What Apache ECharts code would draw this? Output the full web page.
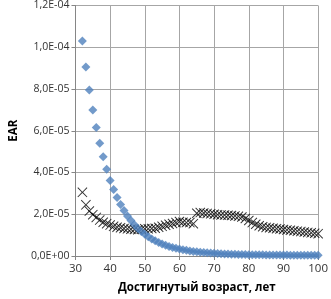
<!DOCTYPE html>
<html>
<head>
<meta charset="utf-8">
<script src="https://cdn.jsdelivr.net/npm/echarts@6/dist/echarts.min.js"></script>
<style>
  html, body { margin: 0; padding: 0; background: #fff; }
  #chart { width: 331px; height: 299px; }
</style>
</head>
<body>
<div id="chart"></div>
<script>
// ages 32..100
var ages = [];
for (var a = 32; a <= 100; a++) ages.push(a);

// blue diamonds
var earA = [
  1.03e-4, 9.05e-5, 7.95e-5, 7.0e-5, 6.15e-5, 5.4e-5, 4.75e-5, 4.15e-5, 3.62e-5, 3.18e-5,
  2.8e-5, 2.47e-5, 2.18e-5, 1.92e-5, 1.7e-5, 1.5e-5, 1.32e-5, 1.17e-5, 1.04e-5, 9.2e-6,
  8.2e-6, 7.3e-6, 6.5e-6, 5.8e-6, 5.2e-6, 4.6e-6, 4.1e-6, 3.7e-6, 3.3e-6, 3.0e-6,
  2.7e-6, 2.4e-6, 2.2e-6, 2.0e-6, 1.8e-6, 1.65e-6, 1.5e-6, 1.38e-6, 1.27e-6, 1.17e-6,
  1.08e-6, 1.0e-6, 9.3e-7, 8.7e-7, 8.1e-7, 7.6e-7, 7.1e-7, 6.7e-7, 6.3e-7, 6.0e-7,
  5.8e-7, 5.6e-7, 5.4e-7, 5.2e-7, 5.0e-7, 4.8e-7, 4.6e-7, 4.5e-7, 4.4e-7, 4.2e-7,
  4.1e-7, 4.0e-7, 3.9e-7, 3.8e-7, 3.7e-7, 3.6e-7, 3.5e-7, 3.4e-7, 3.3e-7
];

// black crosses
var earB = [
  3.05e-5, 2.45e-5, 2.15e-5, 1.98e-5, 1.85e-5, 1.72e-5, 1.62e-5, 1.55e-5, 1.48e-5, 1.42e-5,
  1.38e-5, 1.35e-5, 1.32e-5, 1.3e-5, 1.28e-5, 1.27e-5, 1.26e-5, 1.28e-5, 1.3e-5, 1.3e-5,
  1.32e-5, 1.33e-5, 1.38e-5, 1.42e-5, 1.47e-5, 1.52e-5, 1.56e-5, 1.6e-5, 1.65e-5, 1.62e-5,
  1.6e-5, 1.6e-5, 1.55e-5, 2.05e-5, 2.08e-5, 2.06e-5, 2.04e-5, 2.02e-5, 2.0e-5, 1.98e-5,
  1.97e-5, 1.96e-5, 1.95e-5, 1.94e-5, 1.92e-5, 1.9e-5, 1.87e-5, 1.8e-5, 1.7e-5, 1.6e-5,
  1.52e-5, 1.45e-5, 1.4e-5, 1.37e-5, 1.35e-5, 1.33e-5, 1.31e-5, 1.29e-5, 1.27e-5, 1.25e-5,
  1.23e-5, 1.21e-5, 1.19e-5, 1.17e-5, 1.15e-5, 1.13e-5, 1.11e-5, 1.09e-5, 1.07e-5
];

var xName = 'Достигнутый возраст, лет';
var yName = 'EAR';

function sci(v) {
  if (Math.abs(v) < 1e-12) return '0,0E+00';
  var s = v.toExponential(1).split('e');
  var e = parseInt(s[1], 10);
  var es = (e < 0 ? '-' : '+') + (Math.abs(e) < 10 ? '0' : '') + Math.abs(e);
  return s[0].replace('.', ',') + 'E' + es;
}

function pairs(ys) {
  return ages.map(function (a, i) { return [a, ys[i]]; });
}

var crossPath = 'path://M0,0.7L0.7,0L5,4.3L9.3,0L10,0.7L5.7,5L10,9.3L9.3,10L5,5.7L0.7,10L0,9.3L4.3,5Z';

var chart = echarts.init(document.getElementById('chart'));
chart.setOption({
  animation: false,
  textStyle: { fontFamily: 'Open Sans' },
  grid: { left: 68, right: 8, top: 5, bottom: 42 },
  xAxis: {
    type: 'value', min: 30, max: 100, interval: 10,
    name: xName, nameLocation: 'middle', nameGap: 26,
    nameTextStyle: { fontWeight: 'bold', fontSize: 11.5, color: '#000' },
    axisLine: { lineStyle: { color: '#868686' } },
    axisTick: { show: true, length: 4, lineStyle: { color: '#868686' } },
    axisLabel: { color: '#333', fontSize: 11.5, margin: 7 },
    splitLine: { lineStyle: { color: '#a6a6a6' } }
  },
  yAxis: {
    type: 'value', min: 0, max: 1.2e-4, interval: 2e-5,
    name: yName, nameLocation: 'middle', nameGap: 55,
    nameTextStyle: { fontWeight: 'bold', fontSize: 11.5, color: '#000' },
    axisLine: { show: true, lineStyle: { color: '#868686' } },
    axisTick: { show: true, length: 4, lineStyle: { color: '#868686' } },
    axisLabel: { color: '#333', fontSize: 10.5, margin: 6, formatter: sci },
    splitLine: { lineStyle: { color: '#a6a6a6' } }
  },
  series: [
    {
      type: 'scatter', data: pairs(earB),
      symbol: crossPath, symbolSize: 10,
      itemStyle: { color: '#000' }
    },
    {
      type: 'scatter', data: pairs(earA),
      symbol: 'diamond', symbolSize: 9,
      itemStyle: { color: '#4f81bd' }
    }
  ]
});
</script>
</body>
</html>
